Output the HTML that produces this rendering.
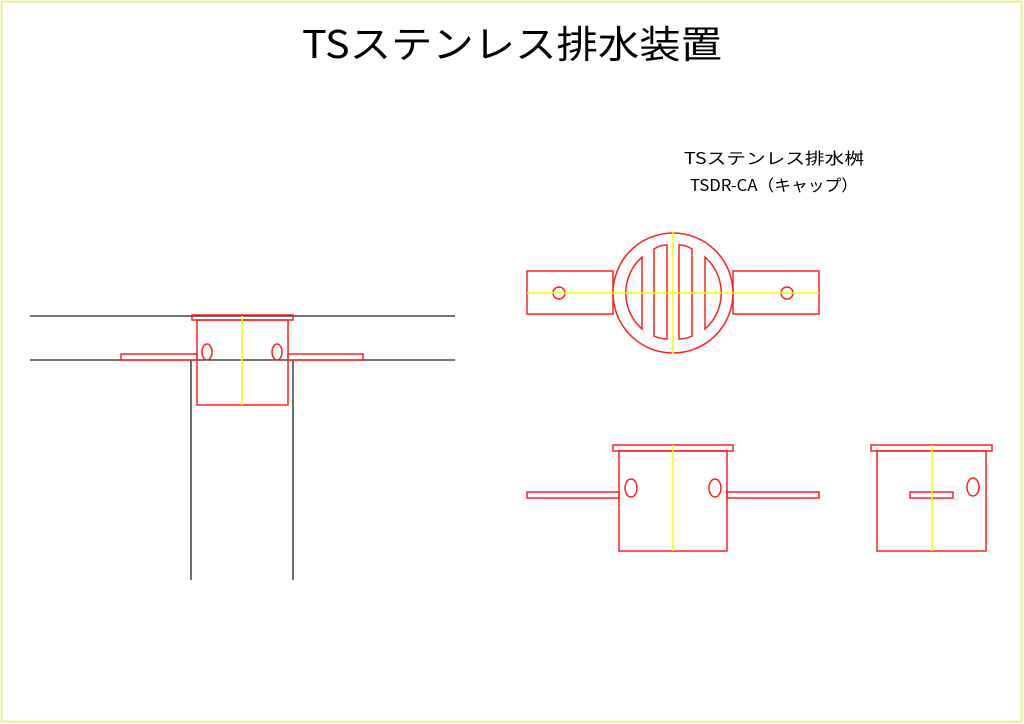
<!DOCTYPE html>
<html><head><meta charset="utf-8"><style>
html,body{margin:0;padding:0;background:#fff;width:1024px;height:724px;overflow:hidden}
svg{display:block}
</style></head><body>
<svg width="1024" height="724" viewBox="0 0 1024 724" xmlns="http://www.w3.org/2000/svg">
<rect x="1.5" y="1.5" width="1020" height="720" fill="none" stroke="#f2f230" stroke-width="1.5"/>
<text x="512" y="58" text-anchor="middle" font-family="'Noto Sans CJK JP',sans-serif" font-weight="400" font-size="38" textLength="420" lengthAdjust="spacingAndGlyphs" fill="#000">TSステンレス排水装置</text>
<text x="774" y="164" text-anchor="middle" font-family="'Noto Sans CJK JP',sans-serif" font-size="16" textLength="180" lengthAdjust="spacingAndGlyphs" fill="#000">TSステンレス排水桝</text>
<text x="774" y="191" text-anchor="middle" font-family="'Noto Sans CJK JP',sans-serif" font-size="16" textLength="168" lengthAdjust="spacingAndGlyphs" fill="#000">TSDR-CA（キャップ）</text>

<g fill="none" stroke="#222" stroke-width="1.3">
<line x1="30" y1="316" x2="455" y2="316"/>
<line x1="30" y1="360" x2="455" y2="360"/>
<line x1="191" y1="360" x2="191" y2="580"/>
<line x1="293" y1="360" x2="293" y2="580"/>
</g>
<g fill="none" stroke="#ff2020" stroke-width="1.5">
<rect x="192" y="315" width="101" height="5"/>
<rect x="197" y="320" width="91" height="85"/>
<rect x="121" y="354" width="76" height="6"/>
<rect x="288" y="354" width="75" height="6"/>
<ellipse cx="207" cy="352" rx="5" ry="8"/>
<ellipse cx="277" cy="352" rx="5" ry="8"/>

<rect x="527" y="271" width="86" height="43"/>
<rect x="733" y="271" width="86" height="43"/>
<circle cx="673" cy="293" r="60" fill="#fff"/>
<circle cx="559" cy="293" r="6"/>
<circle cx="787" cy="293" r="6"/>
<path d="M642 257 A48 48 0 0 0 642 329 Z"/>
<path d="M705 257 A48 48 0 0 1 705 329 Z"/>
<path d="M654 249 Q660 245 667 245 L667 339 Q660 339 654 336 Z"/>
<path d="M679 245 Q686 245 692 249 L692 336 Q686 339 679 339 Z"/>

<rect x="613" y="445" width="120" height="6"/>
<rect x="619" y="451" width="108" height="100"/>
<rect x="527" y="492" width="92" height="6"/>
<rect x="727" y="492" width="92" height="6"/>
<ellipse cx="631" cy="488" rx="6" ry="9"/>
<ellipse cx="715" cy="488" rx="6" ry="9"/>

<rect x="871" y="445" width="121" height="6"/>
<rect x="877" y="451" width="109" height="100"/>
<rect x="910" y="492" width="43" height="6"/>
<ellipse cx="973" cy="487" rx="6" ry="9"/>
</g>
<g stroke="#ffff00" stroke-width="1.6">
<line x1="242" y1="316" x2="242" y2="405"/>
<line x1="673" y1="232" x2="673" y2="354"/>
<line x1="527" y1="293" x2="819" y2="293"/>
<line x1="673" y1="445" x2="673" y2="551"/>
<line x1="932" y1="445" x2="932" y2="551"/>
</g>
</svg>
</body></html>
